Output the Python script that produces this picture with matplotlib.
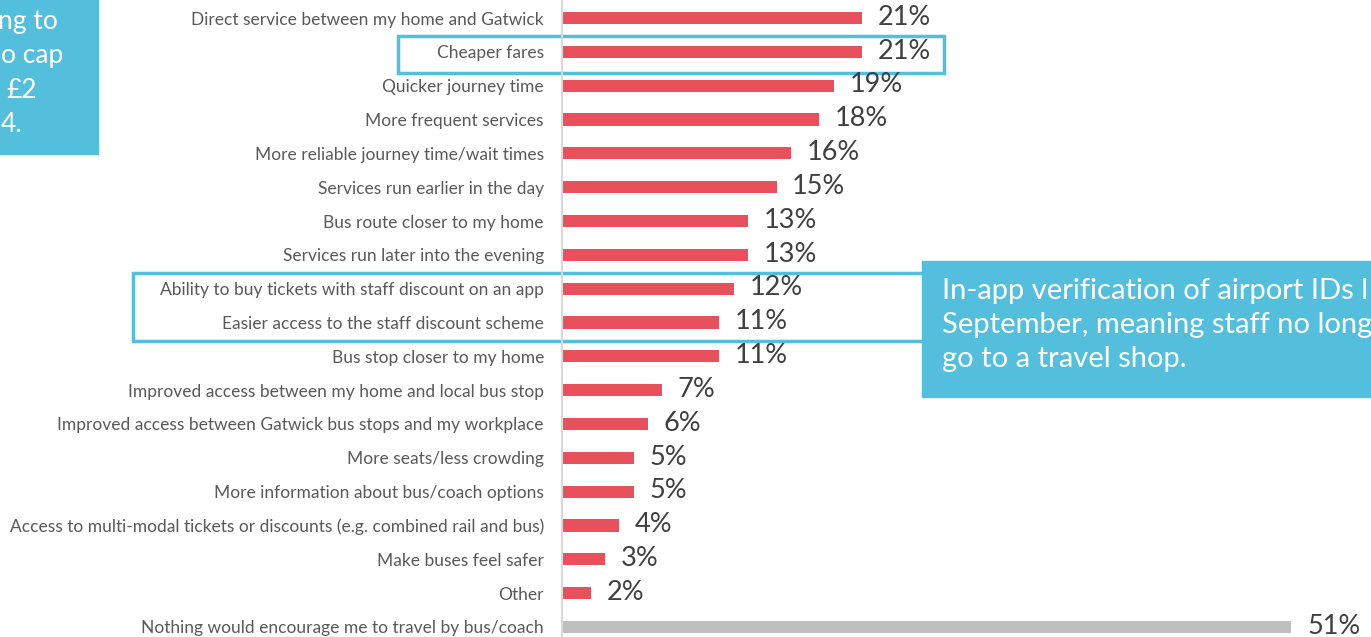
import matplotlib.pyplot as plt
from matplotlib.patches import Rectangle

categories = [
    "Direct service between my home and Gatwick",
    "Cheaper fares",
    "Quicker journey time",
    "More frequent services",
    "More reliable journey time/wait times",
    "Services run earlier in the day",
    "Bus route closer to my home",
    "Services run later into the evening",
    "Ability to buy tickets with staff discount on an app",
    "Easier access to the staff discount scheme",
    "Bus stop closer to my home",
    "Improved access between my home and local bus stop",
    "Improved access between Gatwick bus stops and my workplace",
    "More seats/less crowding",
    "More information about bus/coach options",
    "Access to multi-modal tickets or discounts (e.g. combined rail and bus)",
    "Make buses feel safer",
    "Other",
    "Nothing would encourage me to travel by bus/coach",
]
values = [21, 21, 19, 18, 16, 15, 13, 13, 12, 11, 11, 7, 6, 5, 5, 4, 3, 2, 51]
value_labels = [f"{v}%" for v in values]

# callout texts (as far as they show on the cropped slide)
right_lines = ["In-app verification of airport IDs l",
               "September, meaning staff no long",
               "go to a travel shop."]
left_lines = ["ng to", "o cap", "£2", "4."]

RED = "#E8505B"
GREY = "#BFBFBF"
BLUE = "#53BFDD"
TEXT = "#404040"
LABEL = "#595959"

plt.rcParams['font.family'] = ['Lato', 'DejaVu Sans']

W, H = 1371, 637
fig = plt.figure(figsize=(W / 100, H / 100), dpi=100)

def fx(px):
    return px / W

def fy(py):
    return 1 - py / H

# axes: zero at x=562, 14.3 px per %, rows 33.83 px apart starting at y=18
row = 33.83
top = 18 - row / 2
bottom = 627 + row / 2
xmax = 56
ax = fig.add_axes([fx(562), fy(bottom), fx(xmax * 14.3), (bottom - top) / H])

n = len(categories)
y = list(range(n))
colors = [GREY if c.startswith("Nothing") else RED for c in categories]
ax.barh(y, values, height=0.36, color=colors)
ax.set_ylim(n - 0.5, -0.5)
ax.set_xlim(0, xmax)

for i, (v, lab) in enumerate(zip(values, value_labels)):
    ax.text(v + 1.1, i - 0.02, lab, va="center", ha="left", fontsize=19.5, color=TEXT)

ax.set_yticks(y)
ax.set_yticklabels(categories, fontsize=12.5, color=LABEL)
ax.tick_params(axis="y", length=0, pad=13)
ax.set_xticks([])
for s in ["top", "right", "bottom"]:
    ax.spines[s].set_visible(False)
ax.spines["left"].set_color("#D9D9D9")
ax.spines["left"].set_linewidth(1.5)

# highlight outlines
ax.add_patch(Rectangle((-11.45, 1 - 0.47), 38.15, 1.1, fill=False,
                       edgecolor=BLUE, linewidth=2.5, clip_on=False))
ax.add_patch(Rectangle((-30.0, 8 - 0.47), 55.66, 2.03, fill=False,
                       edgecolor=BLUE, linewidth=2.5, clip_on=False))

# callout boxes
fig.patches.append(Rectangle((fx(922), fy(397)), fx(W - 922) + 0.01, (397 - 261) / H,
                             transform=fig.transFigure, color=BLUE, zorder=0))
for k, t in enumerate(right_lines):
    fig.text(fx(942), fy(291 + 34 * k), t, ha="left", va="center",
             fontsize=21, color="white")

fig.patches.append(Rectangle((fx(-5), fy(154)), fx(103), 154 / H,
                             transform=fig.transFigure, color=BLUE, zorder=0))
left_ends = [58, 63, 37, 22]
for k, (t, e) in enumerate(zip(left_lines, left_ends)):
    fig.text(fx(e), fy(22 + 34 * k), t, ha="right", va="center",
             fontsize=19, color="white")

fig.savefig("out.png", dpi=100)
